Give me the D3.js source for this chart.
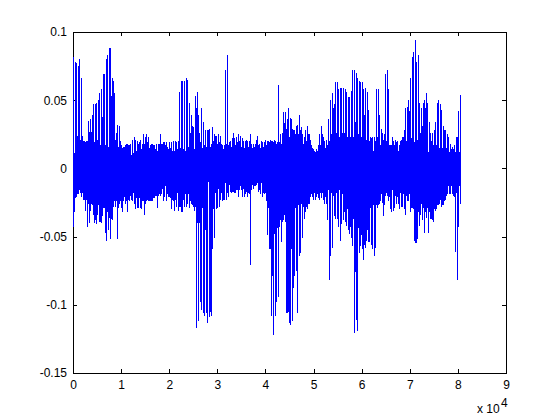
<!DOCTYPE html>
<html><head><meta charset="utf-8">
<script src="https://cdn.jsdelivr.net/npm/d3@7"></script>
<style>html,body{margin:0;padding:0;background:#fff;overflow:hidden}
text{font-family:"Liberation Sans",Arial,sans-serif;fill:#000}
svg{display:block}</style></head><body><svg id="c" width="560" height="420"></svg>
<script>
// per-column envelope of the signal, in thousandths
const upperMilli=[82,11,78,77,24,75,80,21,66,24,20,20,19,20,20,35,27,36,27,39,47,19,47,48,21,50,55,17,58,38,69,69,17,80,83,16,88,88,53,66,64,55,21,26,32,16,31,20,17,15,16,16,17,18,18,17,17,18,10,21,11,23,21,13,20,18,19,21,14,18,25,18,23,25,19,23,15,17,18,18,17,17,14,18,13,18,18,25,18,18,19,19,17,19,16,14,19,15,19,13,20,13,20,19,14,20,56,15,64,64,14,64,13,66,65,16,48,26,39,31,30,14,53,44,56,39,26,19,44,15,34,17,28,16,28,28,29,16,18,30,20,25,24,24,18,25,19,24,18,17,14,17,72,18,83,17,19,20,16,22,26,22,17,23,19,25,20,24,16,22,20,15,20,21,20,16,20,25,18,15,18,16,18,21,24,17,18,15,20,19,16,19,21,17,20,20,19,21,20,20,19,21,20,18,19,61,19,25,18,26,41,33,41,29,36,44,23,37,36,29,28,28,25,31,32,25,39,28,30,25,18,23,28,20,31,25,25,21,17,15,14,13,12,14,13,17,25,17,31,25,23,20,15,21,17,36,20,50,25,55,44,47,63,26,63,58,23,59,59,26,59,26,58,56,23,52,52,23,57,72,23,72,34,70,66,25,64,63,23,63,58,39,59,21,56,43,20,23,22,23,13,23,20,58,23,58,39,17,29,26,21,25,69,20,72,58,17,17,17,23,20,17,21,19,20,13,17,20,21,23,23,28,44,20,45,50,42,66,22,82,85,19,94,78,21,83,48,26,44,31,48,50,44,55,48,12,34,26,20,26,17,28,34,17,48,50,15,47,43,15,31,28,28,15,25,23,12,18,14,16,14,17,12,23,23,42,12,54];
const lowerMilli=[43,32,22,21,19,19,16,18,21,18,23,23,31,23,43,26,40,31,26,27,34,40,38,41,34,27,39,39,40,35,29,29,47,53,32,45,36,52,37,38,28,24,28,24,52,29,26,24,29,32,24,21,26,24,32,23,24,20,23,24,18,26,30,22,29,29,22,29,30,24,24,34,26,24,23,24,24,24,24,24,22,22,20,20,29,20,19,20,19,15,24,21,13,24,19,21,21,22,30,23,24,31,23,28,18,31,28,28,32,32,23,28,19,28,26,19,29,24,26,27,28,31,28,117,40,112,40,98,104,29,106,108,45,106,113,10,109,105,108,59,30,51,18,30,29,15,28,23,18,24,23,23,11,23,18,21,12,17,18,17,17,18,18,16,16,21,16,13,16,21,15,21,19,17,21,18,19,71,16,12,15,13,13,12,11,17,16,19,11,21,18,19,18,24,49,29,59,59,108,79,122,48,108,98,44,94,43,38,54,39,38,34,39,106,106,105,113,115,59,112,88,79,29,75,106,27,64,62,26,51,28,37,32,28,30,26,26,21,19,21,23,18,23,21,19,22,23,18,22,18,23,26,21,26,38,16,82,64,18,58,20,35,37,18,37,43,16,53,41,19,38,32,39,42,30,45,48,43,51,57,37,121,76,111,119,44,62,57,49,59,67,56,58,53,45,54,54,29,56,59,27,64,58,27,29,27,26,24,19,25,35,27,20,18,20,24,21,30,32,16,31,29,20,26,21,26,30,18,28,28,19,30,34,20,24,24,19,32,29,29,30,53,55,55,52,32,42,34,26,38,29,47,32,36,29,47,32,37,37,38,39,30,31,30,27,27,26,23,28,27,27,24,23,20,19,13,19,19,13,19,20,21,61,18,82,43,13,26];
const samplesPerColumn=208;
const xTicks=[0,10000,20000,30000,40000,50000,60000,70000,80000,90000];
const xTickLabels=["0","1","2","3","4","5","6","7","8","9"];
const yTicks=[0.1,0.05,0,-0.05,-0.1,-0.15];
const yTickLabels=["0.1","0.05","0","-0.05","-0.1","-0.15"];
const exponentBase="x 10",exponent="4";

const n=Math.min(upperMilli.length,lowerMilli.length);
const svg=d3.select("#c");
const x=d3.scaleLinear().domain([0,90000]).range([73,506]);
const y=d3.scaleLinear().domain([-0.15,0.1]).range([373,32]);
const L=x.range()[0],R=x.range()[1],T=y.range()[1],B=y.range()[0];
const fmtX=(d,i)=>xTickLabels[i], fmtY=(d,i)=>yTickLabels[i];
function style(g){
  g.attr("shape-rendering","crispEdges");
  g.selectAll("path.domain").attr("stroke","#000").attr("stroke-width",1);
  g.selectAll("line").attr("stroke","#000").attr("stroke-width",1);
  g.selectAll("text").style("font-family",'"Liberation Sans",Arial,sans-serif').style("font-size","12px").attr("fill","#000");
}
svg.append("g").attr("transform",`translate(0,${B})`).call(d3.axisBottom(x).tickValues(xTicks).tickFormat(fmtX).tickSizeInner(-4).tickSizeOuter(0).tickPadding(7)).call(style);
svg.append("g").attr("transform",`translate(0,${T})`).call(d3.axisTop(x).tickValues(xTicks).tickFormat("").tickSizeInner(-4).tickSizeOuter(0)).call(style);
svg.append("g").attr("transform",`translate(${L},0)`).call(d3.axisLeft(y).tickValues(yTicks).tickFormat(fmtY).tickSizeInner(-4).tickSizeOuter(0).tickPadding(6)).call(style);
svg.append("g").attr("transform",`translate(${R},0)`).call(d3.axisRight(y).tickValues(yTicks).tickFormat("").tickSizeInner(-4).tickSizeOuter(0)).call(style);

svg.append("g").attr("shape-rendering","crispEdges").selectAll("line").data(d3.range(n)).join("line")
  .attr("x1",i=>Math.floor(x(i*samplesPerColumn)+0.01)+0.5)
  .attr("x2",i=>Math.floor(x(i*samplesPerColumn)+0.01)+0.5)
  .attr("y1",i=>y(upperMilli[i]/1000))
  .attr("y2",i=>y(-lowerMilli[i]/1000))
  .attr("stroke","#0000ff").attr("stroke-width",1);

svg.append("text").attr("x",477).attr("y",413).style("font-size","12px").text(exponentBase);
svg.append("text").attr("x",501).attr("y",407).style("font-size","12px").text(exponent);
</script></body></html>
